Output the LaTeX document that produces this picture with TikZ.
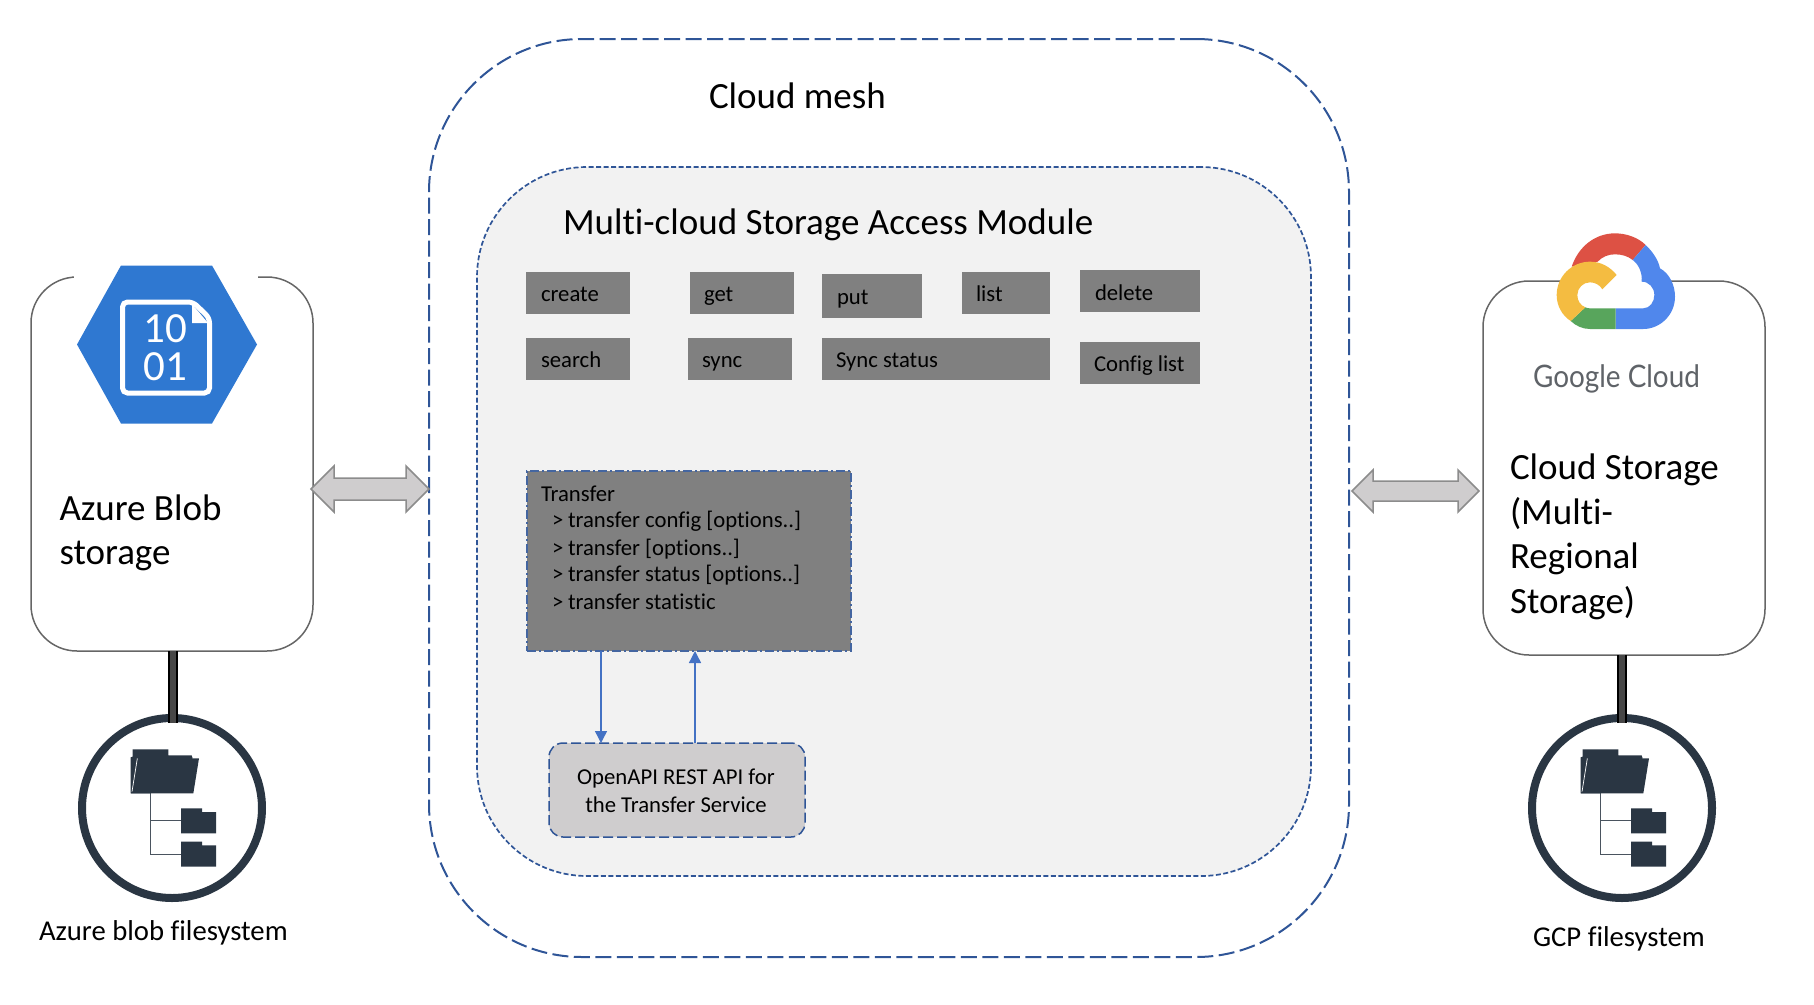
\documentclass[tikz,border=0pt]{standalone}
\usepackage{fontspec}
\setmainfont[Ligatures=NoCommon]{Carlito}
\newfontfamily\gfont{Lato}
\usetikzlibrary{arrows.meta,calc,shapes.geometric}
\definecolor{dashblue}{HTML}{2F5597}
\definecolor{flowblue}{HTML}{4472C4}
\definecolor{panel}{HTML}{F2F2F2}
\definecolor{btn}{HTML}{808080}
\definecolor{apigray}{HTML}{CFCDCE}
\definecolor{navy}{HTML}{2A3643}
\definecolor{azureblue}{HTML}{2F78D1}
\definecolor{gred}{HTML}{DD5144}
\definecolor{gblue}{HTML}{5087EC}
\definecolor{gyellow}{HTML}{F4BC41}
\definecolor{ggreen}{HTML}{58A55C}
\definecolor{ggray}{HTML}{5F6368}
\newcommand{\fs}[1]{\fontsize{#1}{#1}\selectfont}
\tikzset{
  box/.style={anchor=north west,inner sep=0pt,outer sep=0pt,rectangle},
  cmd/.style={box,fill=btn},
  txt/.style={anchor=base west,inner sep=0pt,outer sep=0pt,text=black},
  cloudbox/.style={box,draw=black!60,line width=1.5pt,rounded corners=46pt,fill=white},
  bigarrow/.style={draw=black!45,fill=apigray,line width=1.5pt,line join=miter},
  flow/.style={draw=flowblue,line width=1.4pt,-{Triangle[width=12pt,length=12pt]}},
  pillar/.style={draw=black,line width=2pt,double=black!72,double distance=5.5pt},
  ring/.style={circle,draw=navy,line width=8pt,minimum size=180pt,inner sep=0pt,outer sep=0pt},
}
\newcommand{\foldericon}[1]{%
\begin{scope}[xshift=#1pt,yshift=-650pt]
\begin{scope}[x=0.33333pt,y=-0.33333pt]
  \draw[navy!85,line width=1pt] (300,430) -- (300,612) -- (393,612) (300,510) -- (393,510);
  \fill[navy] (242,430) -- (242,322) -- (248,320) -- (248,298) -- (355,298) -- (355,316) -- (425,316) -- (428,325) -- (300,430) -- cycle;
  \fill[navy] (262,325) -- (447,325) -- (430,430) -- (243,430) -- cycle;
  \draw[white,line width=0.7pt] (262,325) -- (246,425);
  \fill[navy] (393,550) -- (393,475) -- (456,475) -- (456,486) -- (498,486) -- (498,550) -- cycle;
  \fill[navy] (393,650) -- (393,575) -- (456,575) -- (456,586) -- (498,586) -- (498,650) -- cycle;
\end{scope}
\end{scope}}
\begin{document}
\begin{tikzpicture}[x=1pt,y=-1pt]
\useasboundingbox (0,0) rectangle (1814,1004);
% containers
\node[box,draw=dashblue,dash pattern=on 16pt off 5.5pt,line width=2pt,rounded corners=153pt,minimum width=920pt,minimum height=918pt] (mesh) at (429,39) {};
\node[box,draw=dashblue,dash pattern=on 5pt off 2.5pt,line width=1.7pt,fill=panel,rounded corners=110pt,minimum width=834pt,minimum height=709pt] (module) at (477,167) {};
\node[txt,font=\fs{37}] (meshtitle) at (709,108) {Cloud mesh};
\node[txt,font=\fs{37}] (modtitle) at (563,234) {Multi-cloud Storage Access Module};
% command boxes
\node[cmd,minimum width=104pt,minimum height=42pt] (create) at (526,272) {};
\node[cmd,minimum width=104pt,minimum height=42pt] (get) at (690,272) {};
\node[cmd,minimum width=100pt,minimum height=44pt] (put) at (822,274) {};
\node[cmd,minimum width=88pt,minimum height=42pt] (list) at (962,272) {};
\node[cmd,minimum width=120pt,minimum height=42pt] (delete) at (1080,270) {};
\node[cmd,minimum width=104pt,minimum height=42pt] (search) at (526,338) {};
\node[cmd,minimum width=104pt,minimum height=42pt] (sync) at (688,338) {};
\node[cmd,minimum width=228pt,minimum height=42pt] (syncstatus) at (822,338) {};
\node[cmd,minimum width=120pt,minimum height=42pt] (config) at (1080,342) {};
% transfer and API
\node[box,fill=btn,draw=dashblue!90,line width=1.3pt,dash pattern=on 9pt off 3pt on 2pt off 3pt,minimum width=324pt,minimum height=180pt] (transfer) at (527,471) {};
\begin{scope}[every node/.append style={txt,font=\fs{22.7}}]
\node (tcreate) at (541,301) {create};
\node (tget) at (704,301) {get};
\node (tput) at (837,304) {put};
\node (tlist) at (976,301) {list};
\node (tdelete) at (1095,300) {delete};
\node (tsearch) at (541,367) {search};
\node (tsync) at (702,367) {sync};
\node (tsyncstatus) at (836,367) {Sync status};
\node (tconfig) at (1094,371) {Config list};
\node (ttransfer) at (541,501) {Transfer};
\node (t1a) at (552,527) {>};
\node (t1) at (568,527) {transfer config [options..]};
\node (t2a) at (552,555) {>};
\node (t2) at (568,555) {transfer [options..]};
\node (t3a) at (552,581) {>};
\node (t3) at (568,581) {transfer status [options..]};
\node (t4a) at (552,609) {>};
\node (t4) at (568,609) {transfer statistic};
\end{scope}
\node[box,fill=apigray,draw=dashblue,line width=1.5pt,dash pattern=on 10pt off 4pt,rounded corners=14pt,minimum width=256pt,minimum height=94pt] (api) at (549,743) {};
\node[anchor=base,inner sep=0pt,font=\fs{22.7}] (api1) at (676,784) {OpenAPI REST API for};
\node[anchor=base,inner sep=0pt,font=\fs{22.7}] (api2) at (676,812) {the Transfer Service};
\draw[flow] ([xshift=74pt]transfer.south west) -- ([xshift=52pt]api.north west);
\draw[flow] ([xshift=146pt]api.north west) -- ([xshift=168pt]transfer.south west);
% Azure
\node[cloudbox,minimum width=282pt,minimum height=374pt] (azure) at (31,277) {};
\fill[white] (74,268) rectangle (258,288);
\node[txt,font=\fs{37}] (az1) at (59.5,520) {Azure Blob};
\node[txt,font=\fs{37}] (az2) at (59.5,564) {storage};
\fill[azureblue] (77,344.5) -- (121,265.5) -- (212,265.5) -- (257,344.5) -- (212,423.5) -- (121,423.5) -- cycle;
\draw[white,line width=5pt,rounded corners=5pt] (193,302) -- (122.5,302) -- (122.5,393) -- (209.5,393) -- (209.5,318) -- cycle;
\fill[white] (192,304) -- (192,323) -- (208,323) -- cycle;
\node[anchor=center,inner sep=0pt,text=white,align=center,font=\fs{43}] (bits) at (165.5,348) {10\\[-5pt]01};
% Google
\node[cloudbox,minimum width=282pt,minimum height=374pt] (gcp) at (1483,281) {};
\begin{scope}[xshift=1480pt,yshift=-220pt]
\begin{scope}[x=0.33333pt,y=-0.33333pt]
\fill[white] (300,130) rectangle (520,265);
\fill[gred] (275,140) .. controls (295,80) and (345,40) .. (405,40) .. controls (440,40) and (475,53) .. (497,75) -- (458,120) .. controls (443,108) and (425,103) .. (405,103) .. controls (385,103) and (367,110) .. (353,125) -- cycle;
\fill[gblue] (497,75) .. controls (518,95) and (535,120) .. (540,145) .. controls (568,160) and (585,195) .. (585,230) .. controls (585,285) and (540,327) .. (490,327) -- (407,327) -- (407,265) -- (490,265) .. controls (510,265) and (523,245) .. (523,225) .. controls (523,203) and (507,185) .. (485,185) .. controls (487,160) and (478,135) .. (458,120) -- cycle;
\fill[ggreen] (272,303) -- (316,262) .. controls (320,264) and (325,265) .. (330,265) -- (407,265) -- (407,327) -- (330,327) .. controls (308,327) and (288,318) .. (272,303) -- cycle;
\fill[gyellow] (410,165) .. controls (390,140) and (362,125) .. (330,125) .. controls (275,125) and (230,170) .. (230,225) .. controls (230,258) and (247,287) .. (272,303) -- (316,262) .. controls (301,256) and (292,242) .. (292,225) .. controls (292,204) and (309,187) .. (330,187) .. controls (345,187) and (360,195) .. (367,208) -- cycle;
\end{scope}
\end{scope}
\node[txt,text=ggray,font=\gfont\fs{31},xscale=0.9] (gc) at (1533,387) {Google Cloud};
\node[txt,font=\fs{37}] (g1) at (1510,479.5) {Cloud Storage};
\node[txt,font=\fs{37}] (g2) at (1510,524) {(Multi-};
\node[txt,font=\fs{37}] (g3) at (1510,568.5) {Regional};
\node[txt,font=\fs{37}] (g4) at (1510,613.5) {Storage)};
% filesystems
\node[ring] (fsa) at (172,808) {};
\node[ring] (fsb) at (1622,808) {};
\draw[pillar] ([xshift=1pt]azure.south) -- ([xshift=1pt,yshift=-5pt]fsa.north);
\draw[pillar] (fsb.north |- gcp.south) -- ([yshift=-5pt]fsb.north);
\foldericon{50}
\foldericon{1500}
\node[txt,font=\fs{28.7}] (fa) at (39,940) {Azure blob filesystem};
\node[txt,font=\fs{28.7}] (fb) at (1533,946.5) {GCP filesystem};
% double arrows
\coordinate (la) at ([xshift=-2pt]azure.east |- 0,489);
\coordinate (lb) at (mesh.west |- 0,489);
\coordinate (ra) at (mesh.east |- 0,491);
\coordinate (rb) at (gcp.west |- 0,491);
\draw[bigarrow] (la) -- ++(23,-23) -- ++(0,12) -- ($(lb)+(-23,-11)$) -- ++(0,-12) -- (lb) -- ++(-23,23) -- ++(0,-12) -- ($(la)+(23,11)$) -- ++(0,12) -- cycle;
\draw[bigarrow] ($(ra)+(3,0)$) -- ++(21,-21) -- ++(0,11) -- ($(rb)+(-25,-10)$) -- ++(0,-11) -- ($(rb)+(-4,0)$) -- ++(-21,21) -- ++(0,-11) -- ($(ra)+(24,10)$) -- ++(0,11) -- cycle;
\end{tikzpicture}
\end{document}
